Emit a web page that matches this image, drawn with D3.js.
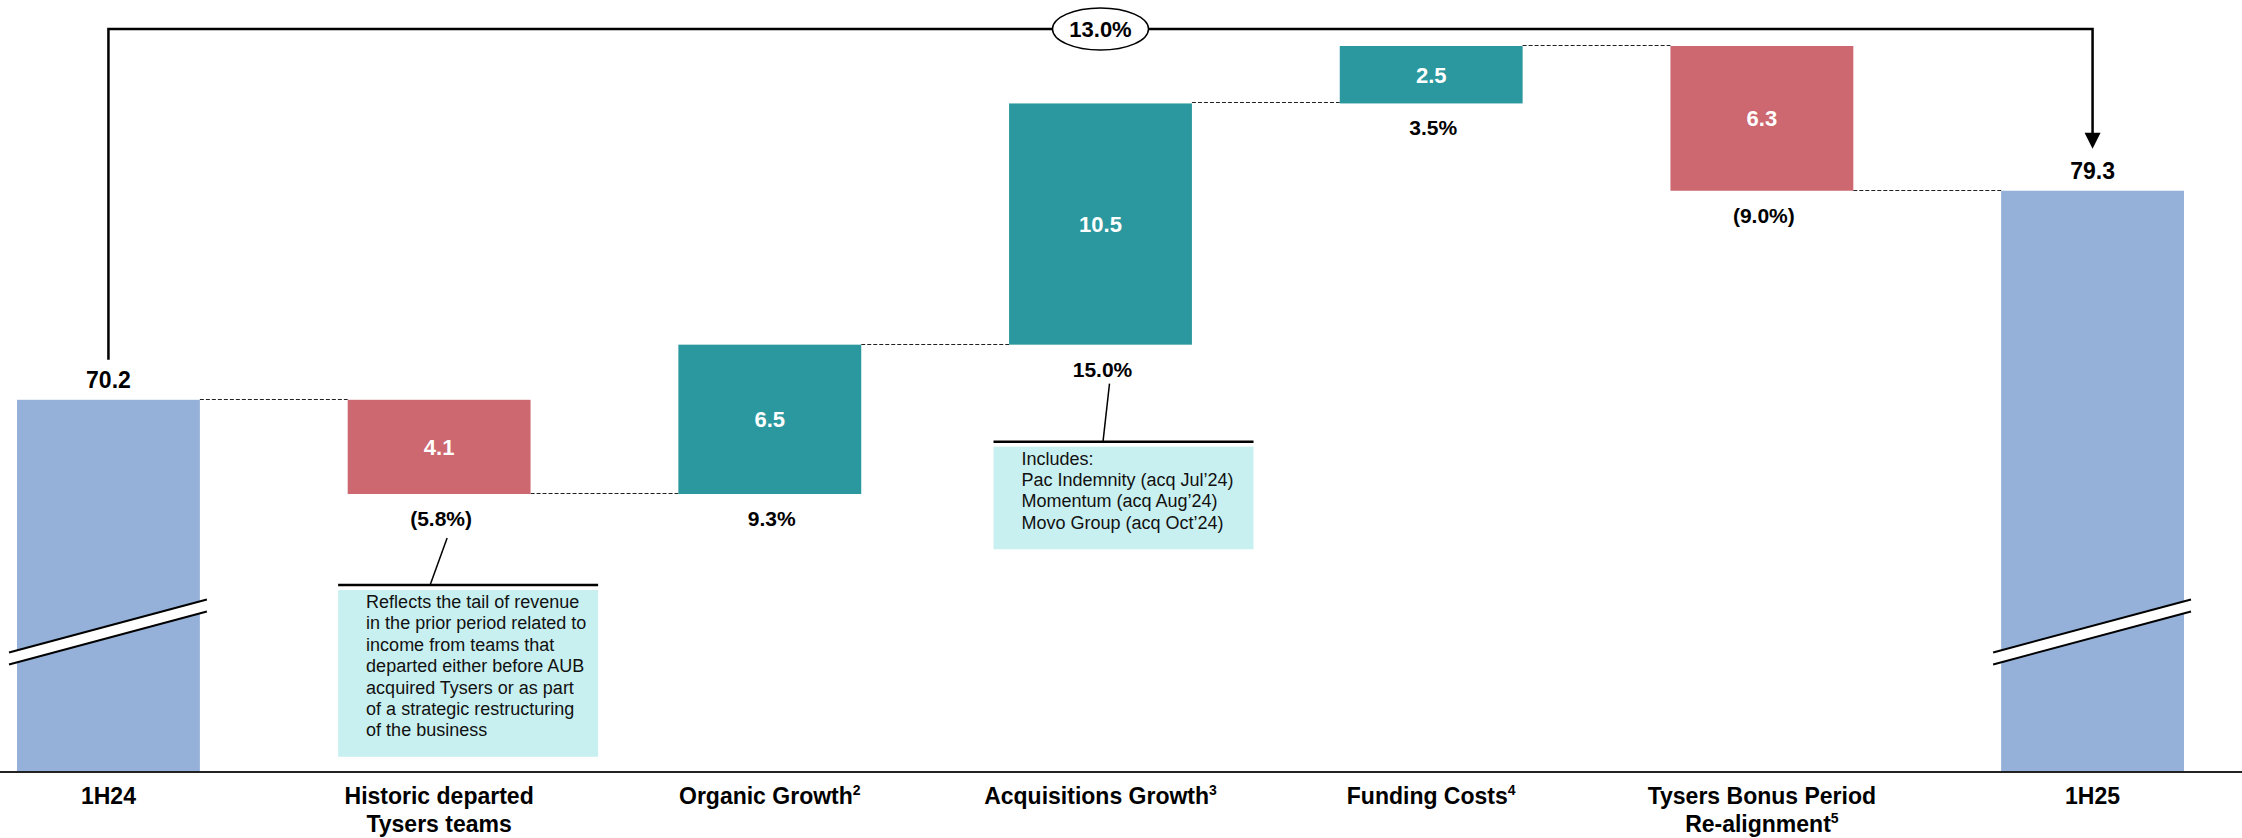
<!DOCTYPE html>
<html>
<head>
<meta charset="utf-8">
<script src="https://cdn.jsdelivr.net/npm/d3@7"></script>
<style>
  body { margin: 0; background: #fff; }
  svg { display: block; font-family: "Liberation Sans", Arial, sans-serif; }
</style>
</head>
<body>
<div id="chart"></div>
<script>
// waterfall: 1H24 -> 1H25
const categories = ['1H24', 'Historic departed Tysers teams', 'Organic Growth', 'Acquisitions Growth',
                    'Funding Costs', 'Tysers Bonus Period Re-alignment', '1H25'];
const labelLines = [['1H24'], ['Historic departed', 'Tysers teams'], ['Organic Growth'], ['Acquisitions Growth'],
                    ['Funding Costs'], ['Tysers Bonus Period', 'Re-alignment'], ['1H25']];
const footnotes = ['', '', '2', '3', '4', '5', ''];
const values = [70.2, -4.1, 6.5, 10.5, 2.5, -6.3, 79.3];
const kinds = ['total', 'neg', 'pos', 'pos', 'pos', 'neg', 'total'];
const pctLabels = ['', '(5.8%)', '9.3%', '15.0%', '3.5%', '(9.0%)', ''];
const totalChange = '13.0%';
const noteHistoric = ['Reflects the tail of revenue', 'in the prior period related to', 'income from teams that',
                      'departed either before AUB', 'acquired Tysers or as part', 'of a strategic restructuring',
                      'of the business'];
const noteAcq = ['Includes:', 'Pac Indemnity (acq Jul\u201924)', 'Momentum (acq Aug\u201924)', 'Movo Group (acq Oct\u201924)'];

const colors = { total: '#95b1da', pos: '#2a989e', neg: '#cd6870' };

var width = 2242, height = 838;

var svg = d3.select('#chart').append('svg')
    .attr('width', width)
    .attr('height', height);

var x = d3.scaleBand()
    .domain(categories)
    .range([17, 2184])
    .paddingInner(0.447)
    .paddingOuter(0);

// axis is broken, so the floor is not zero
var y = d3.scaleLinear()
    .domain([54, 85.6])
    .range([772, 46]);

var bw = x.bandwidth();
var cx = c => x(c) + bw / 2;

// running totals
var run = 0;
var bars = values.map((v, i) => {
    var d = { cat: categories[i], kind: kinds[i], value: v, pct: pctLabels[i] };
    if (kinds[i] === 'total') { d.start = y.domain()[0]; d.end = v; }
    else { d.start = run; d.end = run + v; }
    run = d.end;
    d.top = Math.max(d.start, d.end);
    d.bottom = Math.min(d.start, d.end);
    return d;
});

// dashed connectors
svg.selectAll('line.conn')
    .data(bars.slice(0, -1))
    .enter()
    .append('line')
        .attr('class', 'conn')
        .attr('x1', d => x(d.cat) + bw)
        .attr('x2', (d, i) => x(categories[i + 1]))
        .attr('y1', d => Math.round(y(d.end)) - 0.5)
        .attr('y2', d => Math.round(y(d.end)) - 0.5)
        .attr('stroke', '#222')
        .attr('stroke-width', 1)
        .attr('stroke-dasharray', '4,2');

svg.selectAll('rect.bar')
    .data(bars)
    .enter()
    .append('rect')
        .attr('class', 'bar')
        .attr('x', d => x(d.cat))
        .attr('y', d => y(d.top))
        .attr('width', bw)
        .attr('height', d => y(d.bottom) - y(d.top))
        .attr('fill', d => colors[d.kind]);

// axis break marks on the two totals
var brk = 632, halfRise = 26.5;
bars.filter(d => d.kind === 'total').forEach(d => {
    var x0 = x(d.cat) - 8, x1 = x(d.cat) + bw + 7;
    var g = svg.append('g');
    g.append('polygon')
        .attr('points', `${x0},${brk - 6 + halfRise} ${x1},${brk - 6 - halfRise} ${x1},${brk + 6 - halfRise} ${x0},${brk + 6 + halfRise}`)
        .attr('fill', '#fff');
    [-6, 6].forEach(o => {
        g.append('line')
            .attr('x1', x0).attr('y1', brk + o + halfRise)
            .attr('x2', x1).attr('y2', brk + o - halfRise)
            .attr('stroke', '#000')
            .attr('stroke-width', 2);
    });
});

// baseline
svg.append('line')
    .attr('x1', 0).attr('x2', width)
    .attr('y1', y.range()[0]).attr('y2', y.range()[0])
    .attr('stroke', '#222')
    .attr('stroke-width', 2);

// totals above, deltas inside
svg.selectAll('text.total')
    .data(bars.filter(d => d.kind === 'total'))
    .enter()
    .append('text')
        .attr('class', 'total')
        .attr('x', d => cx(d.cat))
        .attr('y', d => y(d.top) - 12)
        .attr('text-anchor', 'middle')
        .attr('font-size', 23)
        .attr('font-weight', 'bold')
        .text(d => d3.format('.1f')(d.value));

svg.selectAll('text.delta')
    .data(bars.filter(d => d.kind !== 'total'))
    .enter()
    .append('text')
        .attr('class', 'delta')
        .attr('x', d => cx(d.cat))
        .attr('y', d => (y(d.top) + y(d.bottom)) / 2 + 8)
        .attr('text-anchor', 'middle')
        .attr('font-size', 22)
        .attr('font-weight', 'bold')
        .attr('fill', '#fff')
        .text(d => d3.format('.1f')(Math.abs(d.value)));

svg.selectAll('text.pct')
    .data(bars.filter(d => d.pct))
    .enter()
    .append('text')
        .attr('class', 'pct')
        .attr('x', d => cx(d.cat) + 2)
        .attr('y', d => y(d.bottom) + 32)
        .attr('text-anchor', 'middle')
        .attr('font-size', 21)
        .attr('font-weight', 'bold')
        .text(d => d.pct);

// category labels
categories.forEach((c, i) => {
    var t = svg.append('text')
        .attr('x', cx(c))
        .attr('y', 804)
        .attr('text-anchor', 'middle')
        .attr('font-size', 23)
        .attr('font-weight', 'bold');
    labelLines[i].forEach((ln, j) => {
        t.append('tspan')
            .attr('x', cx(c))
            .attr('y', 804 + j * 28)
            .text(ln);
    });
    if (footnotes[i]) {
        t.append('tspan')
            .attr('dy', -9)
            .attr('font-size', 14)
            .text(footnotes[i]);
    }
});

// overall growth bracket
var first = bars[0], last = bars[bars.length - 1];
var bx0 = cx(first.cat), bx1 = cx(last.cat), by = 29;
var tipY = y(last.top) - 42;
svg.append('path')
    .attr('d', `M${bx0},${y(first.top) - 40} V${by} H${bx1} V${tipY - 15}`)
    .attr('fill', 'none')
    .attr('stroke', '#000')
    .attr('stroke-width', 2.5);
svg.append('polygon')
    .attr('points', `${bx1 - 8},${tipY - 16} ${bx1 + 8},${tipY - 16} ${bx1},${tipY}`)
    .attr('fill', '#000');
svg.append('ellipse')
    .attr('cx', (bx0 + bx1) / 2).attr('cy', by)
    .attr('rx', 48).attr('ry', 21)
    .attr('fill', '#fff')
    .attr('stroke', '#000')
    .attr('stroke-width', 1.5);
svg.append('text')
    .attr('x', (bx0 + bx1) / 2)
    .attr('y', by + 8)
    .attr('text-anchor', 'middle')
    .attr('font-size', 22)
    .attr('font-weight', 'bold')
    .text(totalChange);

// callout boxes
function callout(cat, lines, o) {
    var c = cx(cat);
    var b = y(bars[categories.indexOf(cat)].bottom);
    var g = svg.append('g');
    g.append('line')
        .attr('x1', c + o.lx0).attr('y1', b + o.ly0)
        .attr('x2', c + o.lx1).attr('y2', b + o.rule)
        .attr('stroke', '#000').attr('stroke-width', 1.5);
    g.append('line')
        .attr('x1', c + o.left).attr('x2', c + o.left + 260)
        .attr('y1', b + o.rule).attr('y2', b + o.rule)
        .attr('stroke', '#000').attr('stroke-width', 2.5);
    var top = b + o.rule + 5;
    g.append('rect')
        .attr('x', c + o.left).attr('y', top)
        .attr('width', 260).attr('height', lines.length * 21.4 + 17)
        .attr('fill', '#c9f0f0');
    g.selectAll('text')
        .data(lines)
        .enter()
        .append('text')
            .attr('x', c + o.left + 28)
            .attr('y', (d, i) => top + 11.5 + i * 21.4 + 6.5)
            .attr('font-size', 18)
            .attr('fill', '#111')
            .text(d => d);
}

callout(categories[1], noteHistoric, { lx0: 8, ly0: 44, lx1: -9, rule: 91, left: -101 });
callout(categories[3], noteAcq, { lx0: 9, ly0: 39, lx1: 2.5, rule: 97, left: -107 });
</script>
</body>
</html>
